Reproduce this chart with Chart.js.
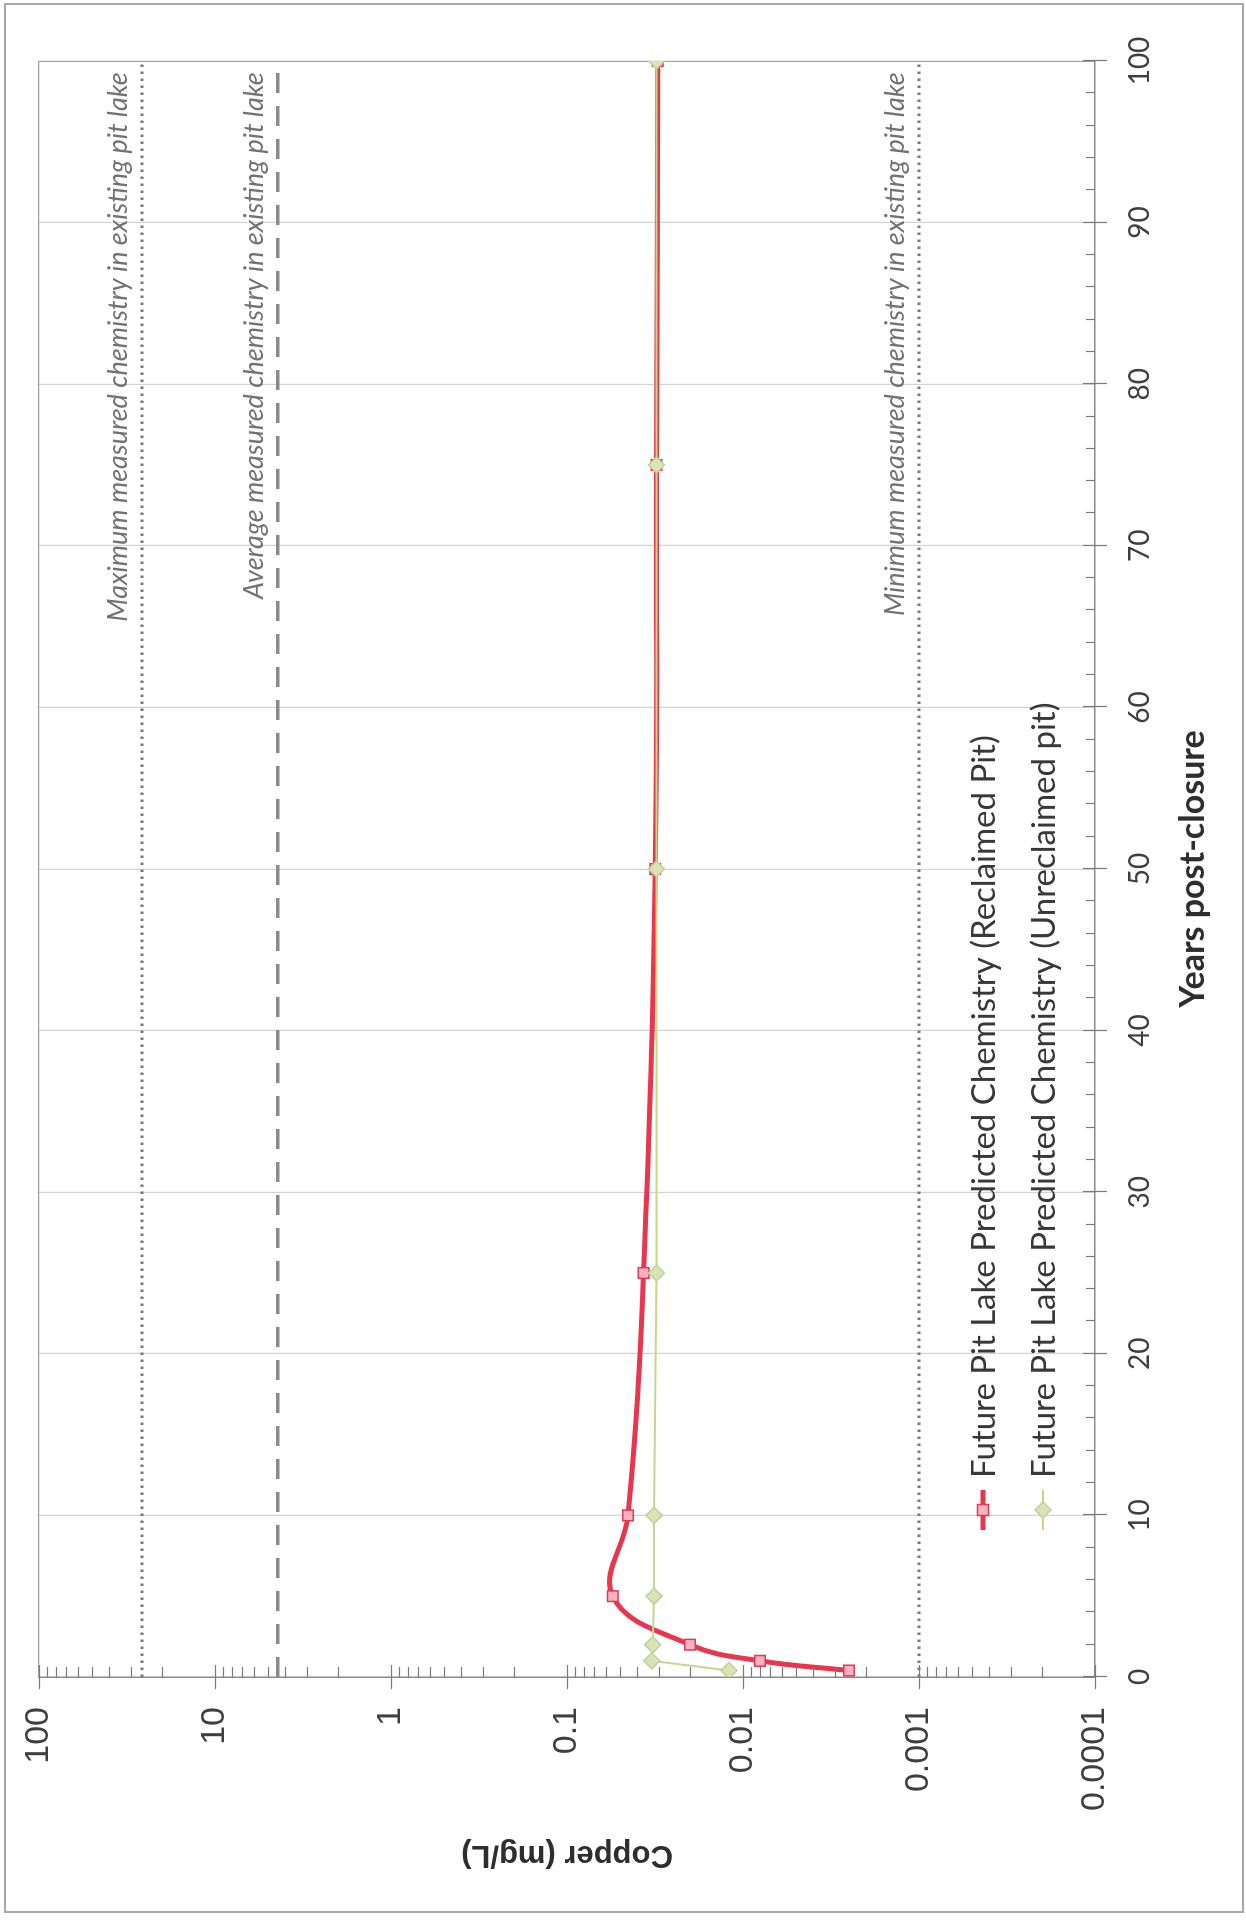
<!DOCTYPE html>
<html>
<head>
<meta charset="utf-8">
<script src="https://cdn.jsdelivr.net/npm/chart.js@4.4.1/dist/chart.umd.min.js"></script>
<style>
  html, body { margin: 0; padding: 0; background: #fff; overflow: hidden; }
  #frame { position: absolute; left: 4px; top: 3px; width: 1236px; height: 1906px; border: 2px solid #a8a8a8; }
  #wrap { position: absolute; left: 0; top: 0; width: 1920px; height: 1246px;
          transform-origin: 0 0; transform: translate(0, 1920px) rotate(-90deg); }
</style>
</head>
<body>
<div id="frame"></div>
<div id="wrap"><canvas id="chart" width="1920" height="1246"></canvas></div>
<script>
// years post-closure
const years = [0.4, 1, 2, 5, 10, 25, 50, 75, 100];
// copper, mg/L
const reclaimed = [0.0025, 0.008, 0.02, 0.055, 0.045, 0.0367, 0.0315, 0.031, 0.0305];
const unreclaimed = [0.012, 0.033, 0.0326, 0.032, 0.032, 0.031, 0.031, 0.031, 0.031];

// measured chemistry in the existing pit lake
const refNames = ['Maximum measured chemistry in existing pit lake',
                  'Average measured chemistry in existing pit lake',
                  'Minimum measured chemistry in existing pit lake'];
const refValues = [26, 4.4, 0.001];
const refSpan = [0, 100];

const yTicks = [0.0001, 0.001, 0.01, 0.1, 1, 10, 100];
const seriesNames = ['Future Pit Lake Predicted Chemistry (Reclaimed Pit)',
                     'Future Pit Lake Predicted Chemistry (Unreclaimed pit)'];

const RED = '#e9364f', RED_FILL = '#f6b4c2';
const GREEN = '#c6d68e', GREEN_FILL = '#d9e3b6';

const pairs = (xs, ys) => xs.map((x, i) => ({ x: x, y: ys[i] }));

const refSets = refValues.map((v, i) => ({
  label: refNames[i],
  data: refSpan.map(x => ({ x: x, y: v })),
  borderColor: i === 1 ? '#8a8a8a' : '#777777',
  borderWidth: i === 1 ? 3.5 : 3,
  borderDash: i === 1 ? [20, 13] : [2.5, 4.5],
  pointRadius: 0,
  fill: false,
  tension: 0
}));

const extras = {
  id: 'extras',
  afterDraw(chart) {
    const ctx = chart.ctx;
    const xs = chart.scales.x, ys = chart.scales.y;
    const area = chart.chartArea;
    ctx.save();

    // tick marks on the years axis
    ctx.strokeStyle = '#7a7a7a';
    ctx.lineWidth = 1.2;
    for (let v = 0; v <= 100; v += 2) {
      const p = Math.round(xs.getPixelForValue(v)) + 0.5;
      const major = v % 10 === 0;
      ctx.beginPath();
      ctx.moveTo(p, area.bottom - (major ? 12 : 9));
      ctx.lineTo(p, area.bottom + (major ? 12 : 0));
      ctx.stroke();
    }
    // tick marks on the copper axis
    for (let e = -4; e <= 2; e++) {
      for (let m = 1; m <= 9; m++) {
        const val = m * Math.pow(10, e);
        if (val > 100.0001) break;
        const p = Math.round(ys.getPixelForValue(val)) + 0.5;
        const major = m === 1;
        ctx.beginPath();
        ctx.moveTo(area.left - (major ? 12 : 0), p);
        ctx.lineTo(area.left + (major ? 12 : 10), p);
        ctx.stroke();
      }
    }

    // labels on the reference lines
    ctx.font = 'italic 27px Lato';
    ctx.fillStyle = '#727272';
    ctx.textAlign = 'right';
    ctx.textBaseline = 'alphabetic';
    const lx = xs.getPixelForValue(99.3);
    refValues.forEach((v, i) => {
      ctx.fillText(refNames[i], lx, ys.getPixelForValue(v) - 15);
    });

    // legend
    const segL = area.left + 147, segR = segL + 40, mid = (segL + segR) / 2;
    const rows = [area.bottom - 112, area.bottom - 52];
    ctx.font = '33px Lato';
    ctx.textAlign = 'left';
    ctx.textBaseline = 'middle';
    rows.forEach((ry, i) => {
      ctx.lineWidth = i === 0 ? 5 : 2;
      ctx.strokeStyle = i === 0 ? RED : GREEN;
      ctx.beginPath();
      ctx.moveTo(segL, ry);
      ctx.lineTo(segR, ry);
      ctx.stroke();
      ctx.lineWidth = 1.5;
      if (i === 0) {
        ctx.fillStyle = RED_FILL;
        ctx.fillRect(mid - 5.5, ry - 5.5, 11, 11);
        ctx.strokeRect(mid - 5.5, ry - 5.5, 11, 11);
      } else {
        ctx.fillStyle = GREEN_FILL;
        ctx.strokeStyle = '#c2cf98';
        ctx.beginPath();
        ctx.moveTo(mid - 8, ry); ctx.lineTo(mid, ry - 8);
        ctx.lineTo(mid + 8, ry); ctx.lineTo(mid, ry + 8);
        ctx.closePath();
        ctx.fill(); ctx.stroke();
      }
      ctx.fillStyle = '#383838';
      ctx.fillText(seriesNames[i], segR + 12, ry + 1);
    });
    ctx.restore();
  }
};

new Chart(document.getElementById('chart').getContext('2d'), {
  type: 'line',
  data: {
    datasets: [
      ...refSets,
      {
        label: seriesNames[1],
        data: pairs(years, unreclaimed),
        borderColor: GREEN,
        borderWidth: 2,
        pointStyle: 'rectRot',
        pointRadius: 8,
        pointBackgroundColor: GREEN_FILL,
        pointBorderColor: '#c2cf98',
        pointBorderWidth: 1.5,
        tension: 0
      },
      {
        label: seriesNames[0],
        data: pairs(years, reclaimed),
        borderColor: RED,
        borderWidth: 5,
        pointStyle: 'rect',
        pointRadius: 7.5,
        pointBackgroundColor: RED_FILL,
        pointBorderColor: RED,
        pointBorderWidth: 1.5,
        tension: 0.4
      }
    ]
  },
  options: {
    responsive: false,
    animation: false,
    layout: { padding: { left: 0, right: 61, top: 39, bottom: 0 } },
    plugins: { legend: { display: false }, tooltip: { enabled: false } },
    scales: {
      x: {
        type: 'linear',
        min: 0,
        max: 100,
        afterFit: s => { s.height = 151; },
        ticks: { stepSize: 10, padding: 4, maxRotation: 0, color: '#3f3f3f',
                 font: { family: 'Lato', size: 28 } },
        grid: { drawTicks: true, tickLength: 24, tickColor: 'transparent', lineWidth: 1.2,
                color: c => (c.tick && c.tick.value > 0) ? (c.tick.value === 100 ? '#a0a0a0' : '#d3d3d3') : 'transparent' },
        border: { color: '#8a8a8a', width: 1.5 },
        title: { display: true, text: 'Years post-closure', color: '#2e2e2e',
                 font: { family: 'Lato', size: 34, weight: 'bold' }, padding: { top: 0, bottom: 33 } }
      },
      y: {
        type: 'logarithmic',
        min: 0.0001,
        max: 100,
        afterBuildTicks: s => { s.ticks = yTicks.map(v => ({ value: v })); },
        afterFit: s => { s.width = 243; },
        ticks: { padding: 4, color: '#3f3f3f', callback: v => String(v),
                 font: { family: 'Liberation Sans', size: 34 } },
        grid: { drawTicks: true, tickLength: 26, tickColor: 'transparent', lineWidth: 1.2,
                color: c => (c.tick && c.tick.value === 100) ? '#a0a0a0' : 'transparent' },
        border: { color: '#8a8a8a', width: 1.5 },
        title: { display: true, text: 'Copper (mg/L)', color: '#2e2e2e',
                 font: { family: 'Liberation Sans', size: 31, weight: 'bold' }, padding: { top: 47, bottom: 0 } }
      }
    }
  },
  plugins: [extras]
});
</script>
</body>
</html>
